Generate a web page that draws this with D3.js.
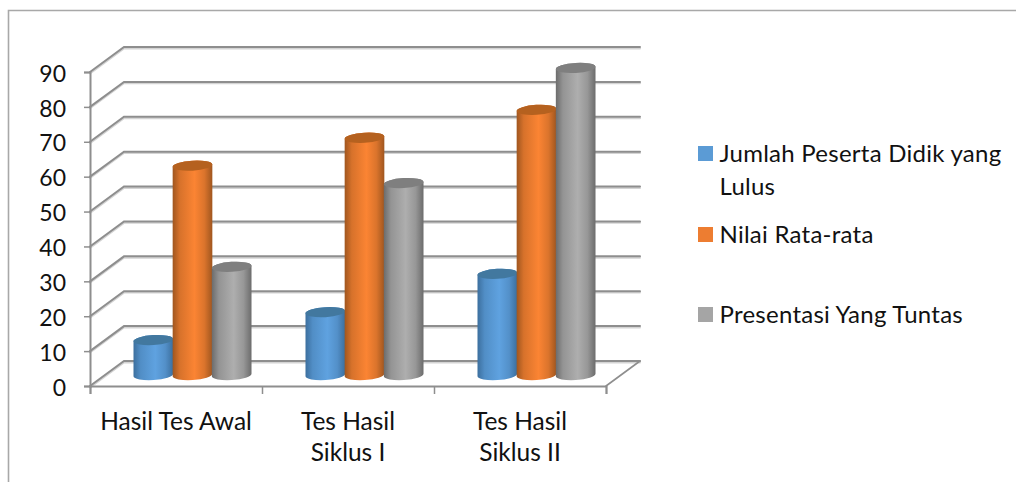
<!DOCTYPE html>
<html>
<head>
<meta charset="utf-8">
<script src="https://cdn.jsdelivr.net/npm/d3@7/dist/d3.min.js"></script>
<style>
  html, body { margin: 0; padding: 0; background: #fff; }
  text { font-family: Lato, "Open Sans", sans-serif; fill: #111; }
</style>
</head>
<body>
<svg id="chart" width="1016" height="482"></svg>
<script>
const categories = [["Hasil Tes Awal"], ["Tes Hasil", "Siklus I"], ["Tes Hasil", "Siklus II"]];
const seriesNames = ["Jumlah Peserta Didik yang Lulus", "Nilai Rata-rata", "Presentasi Yang Tuntas"];
const jumlahLulus = [10, 18, 29];
const nilaiRata = [60, 68, 76];
const presentasiTuntas = [31, 55, 88];
const yTicks = [0, 10, 20, 30, 40, 50, 60, 70, 80, 90];

const swatchColors = ["#5b9bd5", "#ed7d31", "#a5a5a5"];
const shades = [
  { edge: "#3c6f9e", mid: "#5fa2e0", top: "#42789f" },
  { edge: "#a0561f", mid: "#fb8433", top: "#b5611f" },
  { edge: "#6c6c6c", mid: "#aeaeae", top: "#7f7f7f" }
];

const svg = d3.select("#chart");
const defs = svg.append("defs");
shades.forEach((s, i) => {
  const g = defs.append("linearGradient").attr("id", "cyl" + i);
  [[0, s.edge], [0.18, d3.interpolateRgb(s.edge, s.mid)(0.6)], [0.55, s.mid], [0.8, d3.interpolateRgb(s.edge, s.mid)(0.65)], [1, s.edge]]
    .forEach(([o, c]) => g.append("stop").attr("offset", o).attr("stop-color", c));
});

// Projection of the 3D box: the back wall sits up and to the right of the front plane.
const depthX = 34, depthY = 25;
const y = d3.scaleLinear().domain([0, 90]).range([386, 72]);
const x = d3.scaleBand().domain(d3.range(categories.length)).range([90, 606]);
const inner = d3.scaleBand().domain(d3.range(3)).range([44, 161.5]);

// Frame around the chart area: only the top and left edges are drawn.
svg.append("path").attr("d", "M8.5,482V10.5H1016").attr("fill", "none").attr("stroke", "#a8a8a8").attr("stroke-width", 1.6);

const gridColor = "#8e8e8e";
const grid = svg.append("g").attr("fill", "none").attr("stroke-linecap", "round");
yTicks.forEach(t => {
  const yy = y(t);
  const pts = `M${x.range()[0]},${yy}L${x.range()[0] + depthX},${yy - depthY}H${x.range()[1] + depthX}`;
  grid.append("path").attr("d", pts).attr("stroke", "#d4d4d4").attr("stroke-width", 2).attr("transform", "translate(0,1.4)");
  grid.append("path").attr("d", pts).attr("stroke", gridColor).attr("stroke-width", 2);
});
// Floor: right-hand edge running back from the front axis.
grid.append("path")
  .attr("d", `M${x.range()[1]},${y(0)}L${x.range()[1] + depthX},${y(0) - depthY}`)
  .attr("stroke", gridColor).attr("stroke-width", 1.6);

// Value axis
const yAxis = svg.append("g").attr("transform", "translate(90,0)")
  .call(d3.axisLeft(y).tickValues(yTicks).tickSize(6).tickPadding(18).tickFormat(d3.format("d")));
yAxis.select(".domain").attr("stroke", gridColor).attr("stroke-width", 2);
yAxis.selectAll("line").attr("stroke", gridColor).attr("stroke-width", 1.5);
yAxis.selectAll("text").attr("font-size", 23).attr("dy", "0.4em").style("font-family", "Lato").attr("fill", "#111");

// Category axis
const catTicks = d3.range(categories.length + 1).map(i => 90 + i * x.bandwidth());
const xTickScale = d3.scaleIdentity().domain([90, 606]);
const xAxis = svg.append("g").attr("transform", `translate(0,${y(0)})`)
  .call(d3.axisBottom(xTickScale).tickValues(catTicks).tickSize(8).tickFormat(""));
xAxis.select(".domain").attr("stroke", gridColor).attr("stroke-width", 2);
xAxis.selectAll("line").attr("stroke", gridColor).attr("stroke-width", 1.5);

categories.forEach((lines, i) => {
  const t = svg.append("text").attr("text-anchor", "middle").attr("font-size", 24.5);
  lines.forEach((ln, j) => {
    t.append("tspan").attr("x", x(i) + x.bandwidth() / 2).attr("y", 430 + j * 31).text(ln);
  });
});

// Cylinders: each bar is a tilted elliptical cap over a shaded body.
const baseShift = 11;
const rowValues = [jumlahLulus, nilaiRata, presentasiTuntas];
const tilt = 1.2, ry = 5, tiltDeg = -3.5;
rowValues.forEach((vals, s) => {
  const g = svg.append("g");
  vals.forEach((v, c) => {
    const left = x(c) + inner(s) - 0.5;
    const right = left + inner.bandwidth() + 0.5;
    const rx = (right - left) / 2;
    const top = y(v) - baseShift;
    const bot = y(0) - baseShift;
    g.append("path")
      .attr("d", `M${left},${top + tilt}L${left},${bot + tilt}` +
        `A${rx},${ry} ${tiltDeg} 0 0 ${right},${bot - tilt}L${right},${top - tilt}` +
        `A${rx},${ry} ${tiltDeg} 0 0 ${left},${top + tilt}Z`)
      .attr("fill", `url(#cyl${s})`);
    g.append("ellipse")
      .attr("cx", (left + right) / 2).attr("cy", top)
      .attr("rx", rx).attr("ry", ry)
      .attr("transform", `rotate(${tiltDeg} ${(left + right) / 2} ${top})`)
      .attr("fill", shades[s].top);
  });
});

// Legend
const legendRows = [
  { lines: ["Jumlah Peserta Didik yang", "Lulus"], base: 162 },
  { lines: [seriesNames[1]], base: 243 },
  { lines: [seriesNames[2]], base: 323 }
];
legendRows.forEach((r, i) => {
  svg.append("rect").attr("x", 698).attr("y", r.base - 16).attr("width", 15).attr("height", 15).attr("fill", swatchColors[i]);
  const t = svg.append("text").attr("font-size", 24).attr("letter-spacing", 0.25);
  r.lines.forEach((ln, j) => t.append("tspan").attr("x", 719.5).attr("y", r.base + j * 33).text(ln));
});
</script>
</body>
</html>
